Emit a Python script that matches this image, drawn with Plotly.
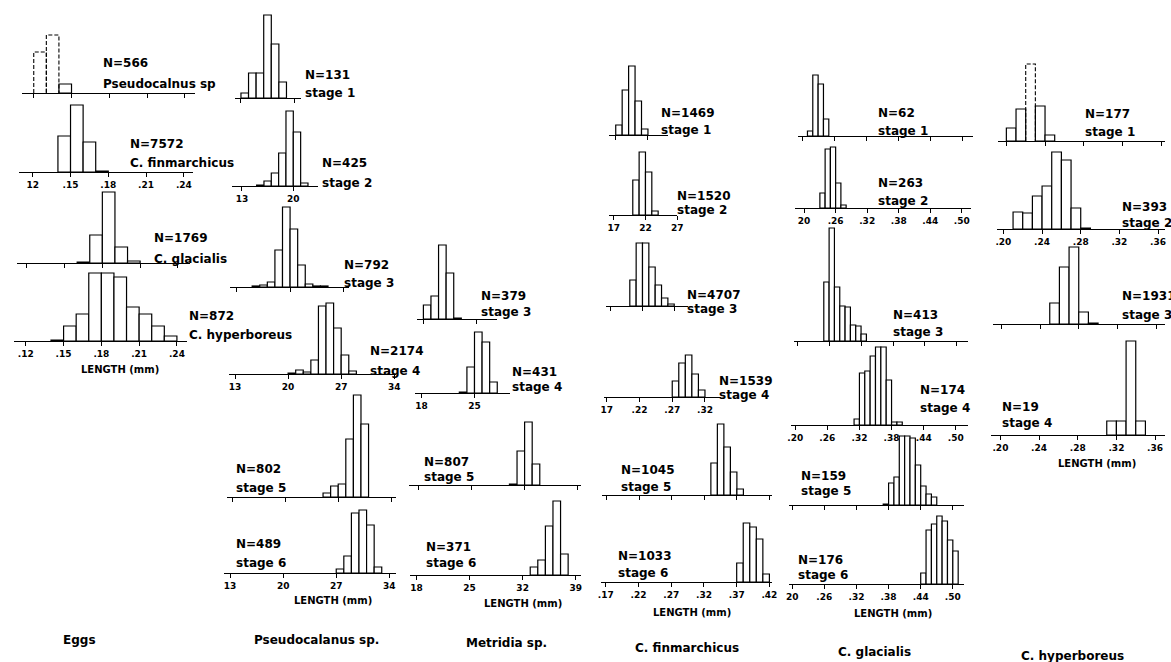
import plotly.graph_objects as go

W, H = 1171, 662

# ---------------- data ----------------
# bin start (mm); every bin is 0.01 mm wide; frequencies are relative (arbitrary units)
egg_pseudo_len = [0.12, 0.13, 0.14]
egg_pseudo_freq = [41, 58, 9]
egg_fin_len = [0.14, 0.15, 0.16, 0.17]
egg_fin_freq = [36, 67, 30, 1]
egg_gla_len = [0.16, 0.17, 0.18, 0.19, 0.20]
egg_gla_freq = [1, 28, 71, 16, 2]
egg_hyp_len = [0.14, 0.15, 0.16, 0.17, 0.18, 0.19, 0.20, 0.21, 0.22, 0.23]
egg_hyp_freq = [1, 15, 27, 68, 68, 64, 34, 27, 15, 5]

pse1_len = [0.13, 0.14, 0.15, 0.16, 0.17, 0.18]
pse1_freq = [5, 25, 25, 83, 54, 16]
pse2_len = [0.15, 0.16, 0.17, 0.18, 0.19, 0.20, 0.21]
pse2_freq = [1, 5, 13, 33, 75, 54, 3]
pse3_len = [0.15, 0.16, 0.17, 0.18, 0.19, 0.20, 0.21, 0.22, 0.23, 0.24]
pse3_freq = [1, 2, 5, 37, 80, 58, 22, 3, 1, 1]
pse4_len = [0.20, 0.21, 0.22, 0.23, 0.24, 0.25, 0.26, 0.27, 0.28]
pse4_freq = [1, 4, 2, 14, 68, 71, 46, 19, 3]
pse5_len = [0.25, 0.26, 0.27, 0.28, 0.29, 0.30]
pse5_freq = [4, 11, 13, 58, 102, 73]
pse6_len = [0.27, 0.28, 0.29, 0.30, 0.31, 0.32]
pse6_freq = [4, 17, 60, 63, 48, 6]

met3_len = [0.18, 0.19, 0.20, 0.21, 0.22]
met3_freq = [14, 23, 74, 46, 1]
met4_len = [0.23, 0.24, 0.25, 0.26, 0.27]
met4_freq = [1, 26, 61, 51, 11]
met5_len = [0.30, 0.31, 0.32, 0.33]
met5_freq = [1, 34, 63, 21]
met6_len = [0.33, 0.34, 0.35, 0.36, 0.37]
met6_freq = [8, 15, 49, 74, 21]

fin1_len = [0.17, 0.18, 0.19, 0.20, 0.21]
fin1_freq = [10, 45, 69, 34, 6]
fin2_len = [0.20, 0.21, 0.22, 0.23]
fin2_freq = [35, 63, 43, 4]
fin3_len = [0.20, 0.21, 0.22, 0.23, 0.24, 0.25, 0.26]
fin3_freq = [26, 63, 63, 39, 21, 8, 2]
fin4_len = [0.27, 0.28, 0.29, 0.30, 0.31]
fin4_freq = [16, 34, 42, 23, 7]
fin5_len = [0.33, 0.34, 0.35, 0.36, 0.37]
fin5_freq = [32, 71, 48, 23, 6]
fin6_len = [0.37, 0.38, 0.39, 0.40, 0.41]
fin6_freq = [19, 59, 55, 43, 8]

gla1_len = [0.21, 0.22, 0.23, 0.24]
gla1_freq = [5, 61, 52, 17]
gla2_len = [0.23, 0.24, 0.25, 0.26, 0.27]
gla2_freq = [15, 59, 61, 25, 3]
gla3_len = [0.25, 0.26, 0.27, 0.28, 0.29, 0.30, 0.31, 0.32]
gla3_freq = [59, 113, 54, 35, 34, 16, 15, 7]
gla4_len = [0.31, 0.32, 0.33, 0.34, 0.35, 0.36, 0.37, 0.38, 0.39]
gla4_freq = [6, 52, 54, 69, 78, 78, 45, 3, 3]
gla5_len = [0.37, 0.38, 0.39, 0.40, 0.41, 0.42, 0.43, 0.44, 0.45, 0.46]
gla5_freq = [1, 22, 28, 69, 69, 67, 40, 19, 11, 8]
gla6_len = [0.44, 0.45, 0.46, 0.47, 0.48, 0.49, 0.50]
gla6_freq = [11, 54, 60, 68, 63, 44, 33]

hyp1_len = [0.20, 0.21, 0.22, 0.23, 0.24]
hyp1_freq = [13, 32, 77, 35, 6]
hyp2_len = [0.21, 0.22, 0.23, 0.24, 0.25, 0.26, 0.27, 0.28]
hyp2_freq = [17, 16, 33, 43, 77, 69, 21, 1]
hyp3_len = [0.25, 0.26, 0.27, 0.28, 0.29]
hyp3_freq = [21, 57, 77, 12, 1]
hyp4_len = [0.31, 0.32, 0.33, 0.34]
hyp4_freq = [14, 14, 94, 14]

# tick values (mm) and tick labels per column
egg_ticks = [0.12, 0.15, 0.18, 0.21, 0.24]
pse_ticks = [0.13, 0.20, 0.27, 0.34]
met_ticks = [0.18, 0.25, 0.32, 0.39]
fin_ticks = [0.17, 0.22, 0.27, 0.32, 0.37, 0.42]
gla_ticks = [0.20, 0.26, 0.32, 0.38, 0.44, 0.50]
hyp_ticks = [0.20, 0.24, 0.28, 0.32, 0.36]

egg_lab_a = ["12", ".15", ".18", ".21", ".24"]
egg_lab_b = [".12", ".15", ".18", ".21", ".24"]
pse_lab = ["13", "20", "27", "34"]
met_lab = ["18", "25", "32", "39"]
fin_lab_a = ["17", "22", "27", "32", "37", "42"]
fin_lab_b = ["17", ".22", ".27", ".32", ".37", ".42"]
fin_lab_c = [".17", ".22", ".27", ".32", ".37", ".42"]
gla_lab_a = ["20", ".26", ".32", ".38", ".44", ".50"]
gla_lab_b = [".20", ".26", ".32", ".38", ".44", ".50"]
hyp_lab = [".20", ".24", ".28", ".32", ".36"]

# sample sizes and captions
egg_n = [566, 7572, 1769, 872]
egg_names = ["Pseudocalnus sp", "C. finmarchicus", "C. glacialis", "C. hyperboreus"]
pse_n = [131, 425, 792, 2174, 802, 489]
met_n = [379, 431, 807, 371]
met_stages = [3, 4, 5, 6]
fin_n = [1469, 1520, 4707, 1539, 1045, 1033]
gla_n = [62, 263, 413, 174, 159, 176]
hyp_n = [177, 393, 1931, 19]
column_titles = ["Eggs", "Pseudocalanus sp.", "Metridia sp.", "C. finmarchicus",
                 "C. glacialis", "C. hyperboreus"]

# ---------------- layout (pixel geometry) ----------------
# L, R: ends of axis line; base: baseline y; t0: pixel of first column tick; ppu: px per 0.01 mm
# lab: (x, y1, y2) of the two-line caption
panels = [
    dict(x=egg_pseudo_len, y=egg_pseudo_freq, ticks=egg_ticks, tl=None, L=18, R=193, base=93, t0=30, ppu=12.7,
         txt=[f"N={egg_n[0]}", egg_names[0]], lab=(98, 63, 84), dashed=[0, 1]),
    dict(x=egg_fin_len, y=egg_fin_freq, ticks=egg_ticks, tl=egg_lab_a, L=15, R=191, base=172, t0=29, ppu=12.7,
         txt=[f"N={egg_n[1]}", egg_names[1]], lab=(125, 144, 163)),
    dict(x=egg_gla_len, y=egg_gla_freq, ticks=egg_ticks, tl=None, L=13, R=188, base=263, t0=23, ppu=12.7,
         txt=[f"N={egg_n[2]}", egg_names[2]], lab=(149, 238, 259)),
    dict(x=egg_hyp_len, y=egg_hyp_freq, ticks=egg_ticks, tl=egg_lab_b, L=10, R=185, base=341, t0=22, ppu=12.7,
         txt=[f"N={egg_n[3]}", egg_names[3]], lab=(185, 316, 335)),

    dict(x=pse1_len, y=pse1_freq, ticks=pse_ticks, tl=None, L=233, R=300, base=98, t0=239, ppu=7.65,
         txt=[f"N={pse_n[0]}", "stage 1"], lab=(302, 75, 93)),
    dict(x=pse2_len, y=pse2_freq, ticks=pse_ticks, tl=pse_lab, L=230, R=317, base=186, t0=240, ppu=7.4,
         txt=[f"N={pse_n[1]}", "stage 2"], lab=(319, 163, 183)),
    dict(x=pse3_len, y=pse3_freq, ticks=pse_ticks, tl=None, L=228, R=348, base=287, t0=235, ppu=7.65,
         txt=[f"N={pse_n[2]}", "stage 3"], lab=(341, 265, 283)),
    dict(x=pse4_len, y=pse4_freq, ticks=pse_ticks, tl=pse_lab, L=227, R=395, base=374, t0=233, ppu=7.65,
         txt=[f"N={pse_n[3]}", "stage 4"], lab=(367, 351, 371)),
    dict(x=pse5_len, y=pse5_freq, ticks=pse_ticks, tl=None, L=225, R=395, base=497, t0=230, ppu=7.65,
         txt=[f"N={pse_n[4]}", "stage 5"], lab=(232, 469, 488)),
    dict(x=pse6_len, y=pse6_freq, ticks=pse_ticks, tl=pse_lab, L=222, R=395, base=573, t0=228, ppu=7.65,
         txt=[f"N={pse_n[5]}", "stage 6"], lab=(232, 544, 563)),

    dict(x=met3_len, y=met3_freq, ticks=met_ticks, tl=None, L=417, R=497, base=319, t0=423, ppu=7.65,
         txt=[f"N={met_n[0]}", f"stage {met_stages[0]}"], lab=(479, 296, 312)),
    dict(x=met4_len, y=met4_freq, ticks=met_ticks, tl=met_lab, L=415, R=510, base=393, t0=421, ppu=7.65,
         txt=[f"N={met_n[1]}", f"stage {met_stages[1]}"], lab=(510, 372, 387)),
    dict(x=met5_len, y=met5_freq, ticks=met_ticks, tl=None, L=408, R=582, base=485, t0=418, ppu=7.65,
         txt=[f"N={met_n[2]}", f"stage {met_stages[2]}"], lab=(422, 462, 477)),
    dict(x=met6_len, y=met6_freq, ticks=met_ticks, tl=met_lab, L=410, R=582, base=575, t0=416, ppu=7.65,
         txt=[f"N={met_n[3]}", f"stage {met_stages[3]}"], lab=(424, 547, 563)),

    dict(x=fin1_len, y=fin1_freq, ticks=fin_ticks, tl=None, L=610, R=670, base=135, t0=617, ppu=6.5,
         txt=[f"N={fin_n[0]}", "stage 1"], lab=(661, 113, 130)),
    dict(x=fin2_len, y=fin2_freq, ticks=fin_ticks, tl=fin_lab_a, L=610, R=679, base=215, t0=615, ppu=6.4,
         txt=[f"N={fin_n[1]}", "stage 2"], lab=(677, 196, 210)),
    dict(x=fin3_len, y=fin3_freq, ticks=fin_ticks, tl=None, L=607, R=690, base=306, t0=612, ppu=6.4,
         txt=[f"N={fin_n[2]}", "stage 3"], lab=(687, 295, 309)),
    dict(x=fin4_len, y=fin4_freq, ticks=fin_ticks, tl=fin_lab_b, L=605, R=723, base=397, t0=608, ppu=6.6,
         txt=[f"N={fin_n[3]}", "stage 4"], lab=(719, 381, 395)),
    dict(x=fin5_len, y=fin5_freq, ticks=fin_ticks, tl=None, L=603, R=775, base=495, t0=608, ppu=6.56,
         txt=[f"N={fin_n[4]}", "stage 5"], lab=(620, 470, 487)),
    dict(x=fin6_len, y=fin6_freq, ticks=fin_ticks, tl=fin_lab_c, L=602, R=775, base=582, t0=607, ppu=6.6,
         txt=[f"N={fin_n[5]}", "stage 6"], lab=(617, 556, 573)),

    dict(x=gla1_len, y=gla1_freq, ticks=gla_ticks, tl=None, L=801, R=977, base=136, t0=805, ppu=5.38,
         txt=[f"N={gla_n[0]}", "stage 1"], lab=(880, 113, 131)),
    dict(x=gla2_len, y=gla2_freq, ticks=gla_ticks, tl=gla_lab_a, L=798, R=975, base=208, t0=807, ppu=5.3,
         txt=[f"N={gla_n[1]}", "stage 2"], lab=(880, 183, 201)),
    dict(x=gla3_len, y=gla3_freq, ticks=gla_ticks, tl=None, L=797, R=972, base=341, t0=800, ppu=5.37,
         txt=[f"N={gla_n[2]}", "stage 3"], lab=(895, 315, 332)),
    dict(x=gla4_len, y=gla4_freq, ticks=gla_ticks, tl=gla_lab_b, L=794, R=972, base=425, t0=798, ppu=5.4,
         txt=[f"N={gla_n[3]}", "stage 4"], lab=(922, 390, 408)),
    dict(x=gla5_len, y=gla5_freq, ticks=gla_ticks, tl=None, L=792, R=968, base=505, t0=795, ppu=5.4,
         txt=[f"N={gla_n[4]}", "stage 5"], lab=(802, 476, 491)),
    dict(x=gla6_len, y=gla6_freq, ticks=gla_ticks, tl=gla_lab_a, L=792, R=968, base=584, t0=795, ppu=5.4,
         txt=[f"N={gla_n[5]}", "stage 6"], lab=(799, 560, 575)),

    dict(x=hyp1_len, y=hyp1_freq, ticks=hyp_ticks, tl=None, L=1003, R=1171, base=141, t0=1011, ppu=9.75,
         txt=[f"N={hyp_n[0]}", "stage 1"], lab=(1088, 114, 132), dashed=[2]),
    dict(x=hyp2_len, y=hyp2_freq, ticks=hyp_ticks, tl=hyp_lab, L=1002, R=1171, base=229, t0=1008, ppu=9.75,
         txt=[f"N={hyp_n[1]}", "stage 2"], lab=(1126, 207, 223)),
    dict(x=hyp3_len, y=hyp3_freq, ticks=hyp_ticks, tl=None, L=998, R=1171, base=324, t0=1006, ppu=9.75,
         txt=[f"N={hyp_n[2]}", "stage 3"], lab=(1126, 296, 315)),
    dict(x=hyp4_len, y=hyp4_freq, ticks=hyp_ticks, tl=hyp_lab, L=996, R=1171, base=435, t0=1005, ppu=9.75,
         txt=[f"N={hyp_n[3]}", "stage 4"], lab=(1005, 407, 423)),
]

length_labels = [(117, 369), (332, 600), (523, 603), (694, 612), (897, 613), (1102, 463)]
title_pos = [(76, 640), (315, 640), (507, 643), (689, 648), (878, 652), (1078, 656)]

FONT = "DejaVu Sans"
BW = 0.01

fig = go.Figure()
layout = dict(width=W, height=H, margin=dict(l=0, r=0, t=0, b=0), autosize=False,
              paper_bgcolor="white", plot_bgcolor="rgba(0,0,0,0)", showlegend=False)
annotations = []


def px_x(p):
    return p / W


def px_y(p):
    return 1 - p / H


for i, p in enumerate(panels, start=1):
    xa = "x" if i == 1 else f"x{i}"
    ya = "y" if i == 1 else f"y{i}"
    xkey = "xaxis" if i == 1 else f"xaxis{i}"
    ykey = "yaxis" if i == 1 else f"yaxis{i}"
    v0 = p["ticks"][0]
    xmin = v0 + (p["L"] - p["t0"]) / p["ppu"] * 0.01
    xmax = v0 + (p["R"] - p["t0"]) / p["ppu"] * 0.01
    ymax = max(p["y"]) + 4
    dashed = p.get("dashed", [])
    centers = [s + BW / 2 for s in p["x"]]
    solid_x = [c for k, c in enumerate(centers) if k not in dashed]
    solid_y = [v for k, v in enumerate(p["y"]) if k not in dashed]
    fig.add_trace(go.Bar(x=solid_x, y=solid_y, width=BW, xaxis=xa, yaxis=ya,
                         marker=dict(color="white", line=dict(color="black", width=1.2)),
                         hoverinfo="x+y"))
    for k in dashed:
        s = p["x"][k]
        h = p["y"][k]
        fig.add_trace(go.Scatter(x=[s, s, s + BW, s + BW], y=[0, h, h, 0], mode="lines",
                                 xaxis=xa, yaxis=ya,
                                 line=dict(color="black", width=1.1, dash="4px,2px")))
    show_lab = p["tl"] is not None
    layout[xkey] = dict(domain=[px_x(p["L"]), min(1.0, px_x(p["R"]))], range=[xmin, xmax],
                        anchor=ya, showgrid=False, zeroline=False, showline=True,
                        linecolor="black", linewidth=1.3, ticks="outside", ticklen=4,
                        tickwidth=1.2, tickcolor="black", tickvals=p["ticks"],
                        ticktext=p["tl"] if show_lab else [""] * len(p["ticks"]),
                        showticklabels=show_lab,
                        tickfont=dict(family=FONT, size=9, color="black", weight="bold"),
                        fixedrange=True)
    layout[ykey] = dict(domain=[px_y(p["base"]), px_y(p["base"] - ymax)], range=[0, ymax],
                        anchor=xa, visible=False, fixedrange=True)
    lx, ly1, ly2 = p["lab"]
    for t, ly in zip(p["txt"], (ly1, ly2)):
        annotations.append(dict(x=px_x(lx), y=px_y(ly), xref="paper", yref="paper", text=t,
                                showarrow=False, xanchor="left", yanchor="middle",
                                font=dict(family=FONT, size=12, color="black", weight="bold")))

for (lx, ly) in length_labels:
    annotations.append(dict(x=px_x(lx), y=px_y(ly), xref="paper", yref="paper",
                            text="LENGTH (mm)", showarrow=False, xanchor="center", yanchor="middle",
                            font=dict(family=FONT, size=10, color="black", weight="bold")))

for t, (lx, ly) in zip(column_titles, title_pos):
    annotations.append(dict(x=px_x(lx), y=px_y(ly), xref="paper", yref="paper", text=t,
                            showarrow=False, xanchor="center", yanchor="middle",
                            font=dict(family=FONT, size=12, color="black", weight="bold")))

layout["annotations"] = annotations
fig.update_layout(**layout)
fig.write_html("out.html", config={"displayModeBar": False},
               post_script="document.body.style.margin='0';document.body.style.overflow='hidden';")
